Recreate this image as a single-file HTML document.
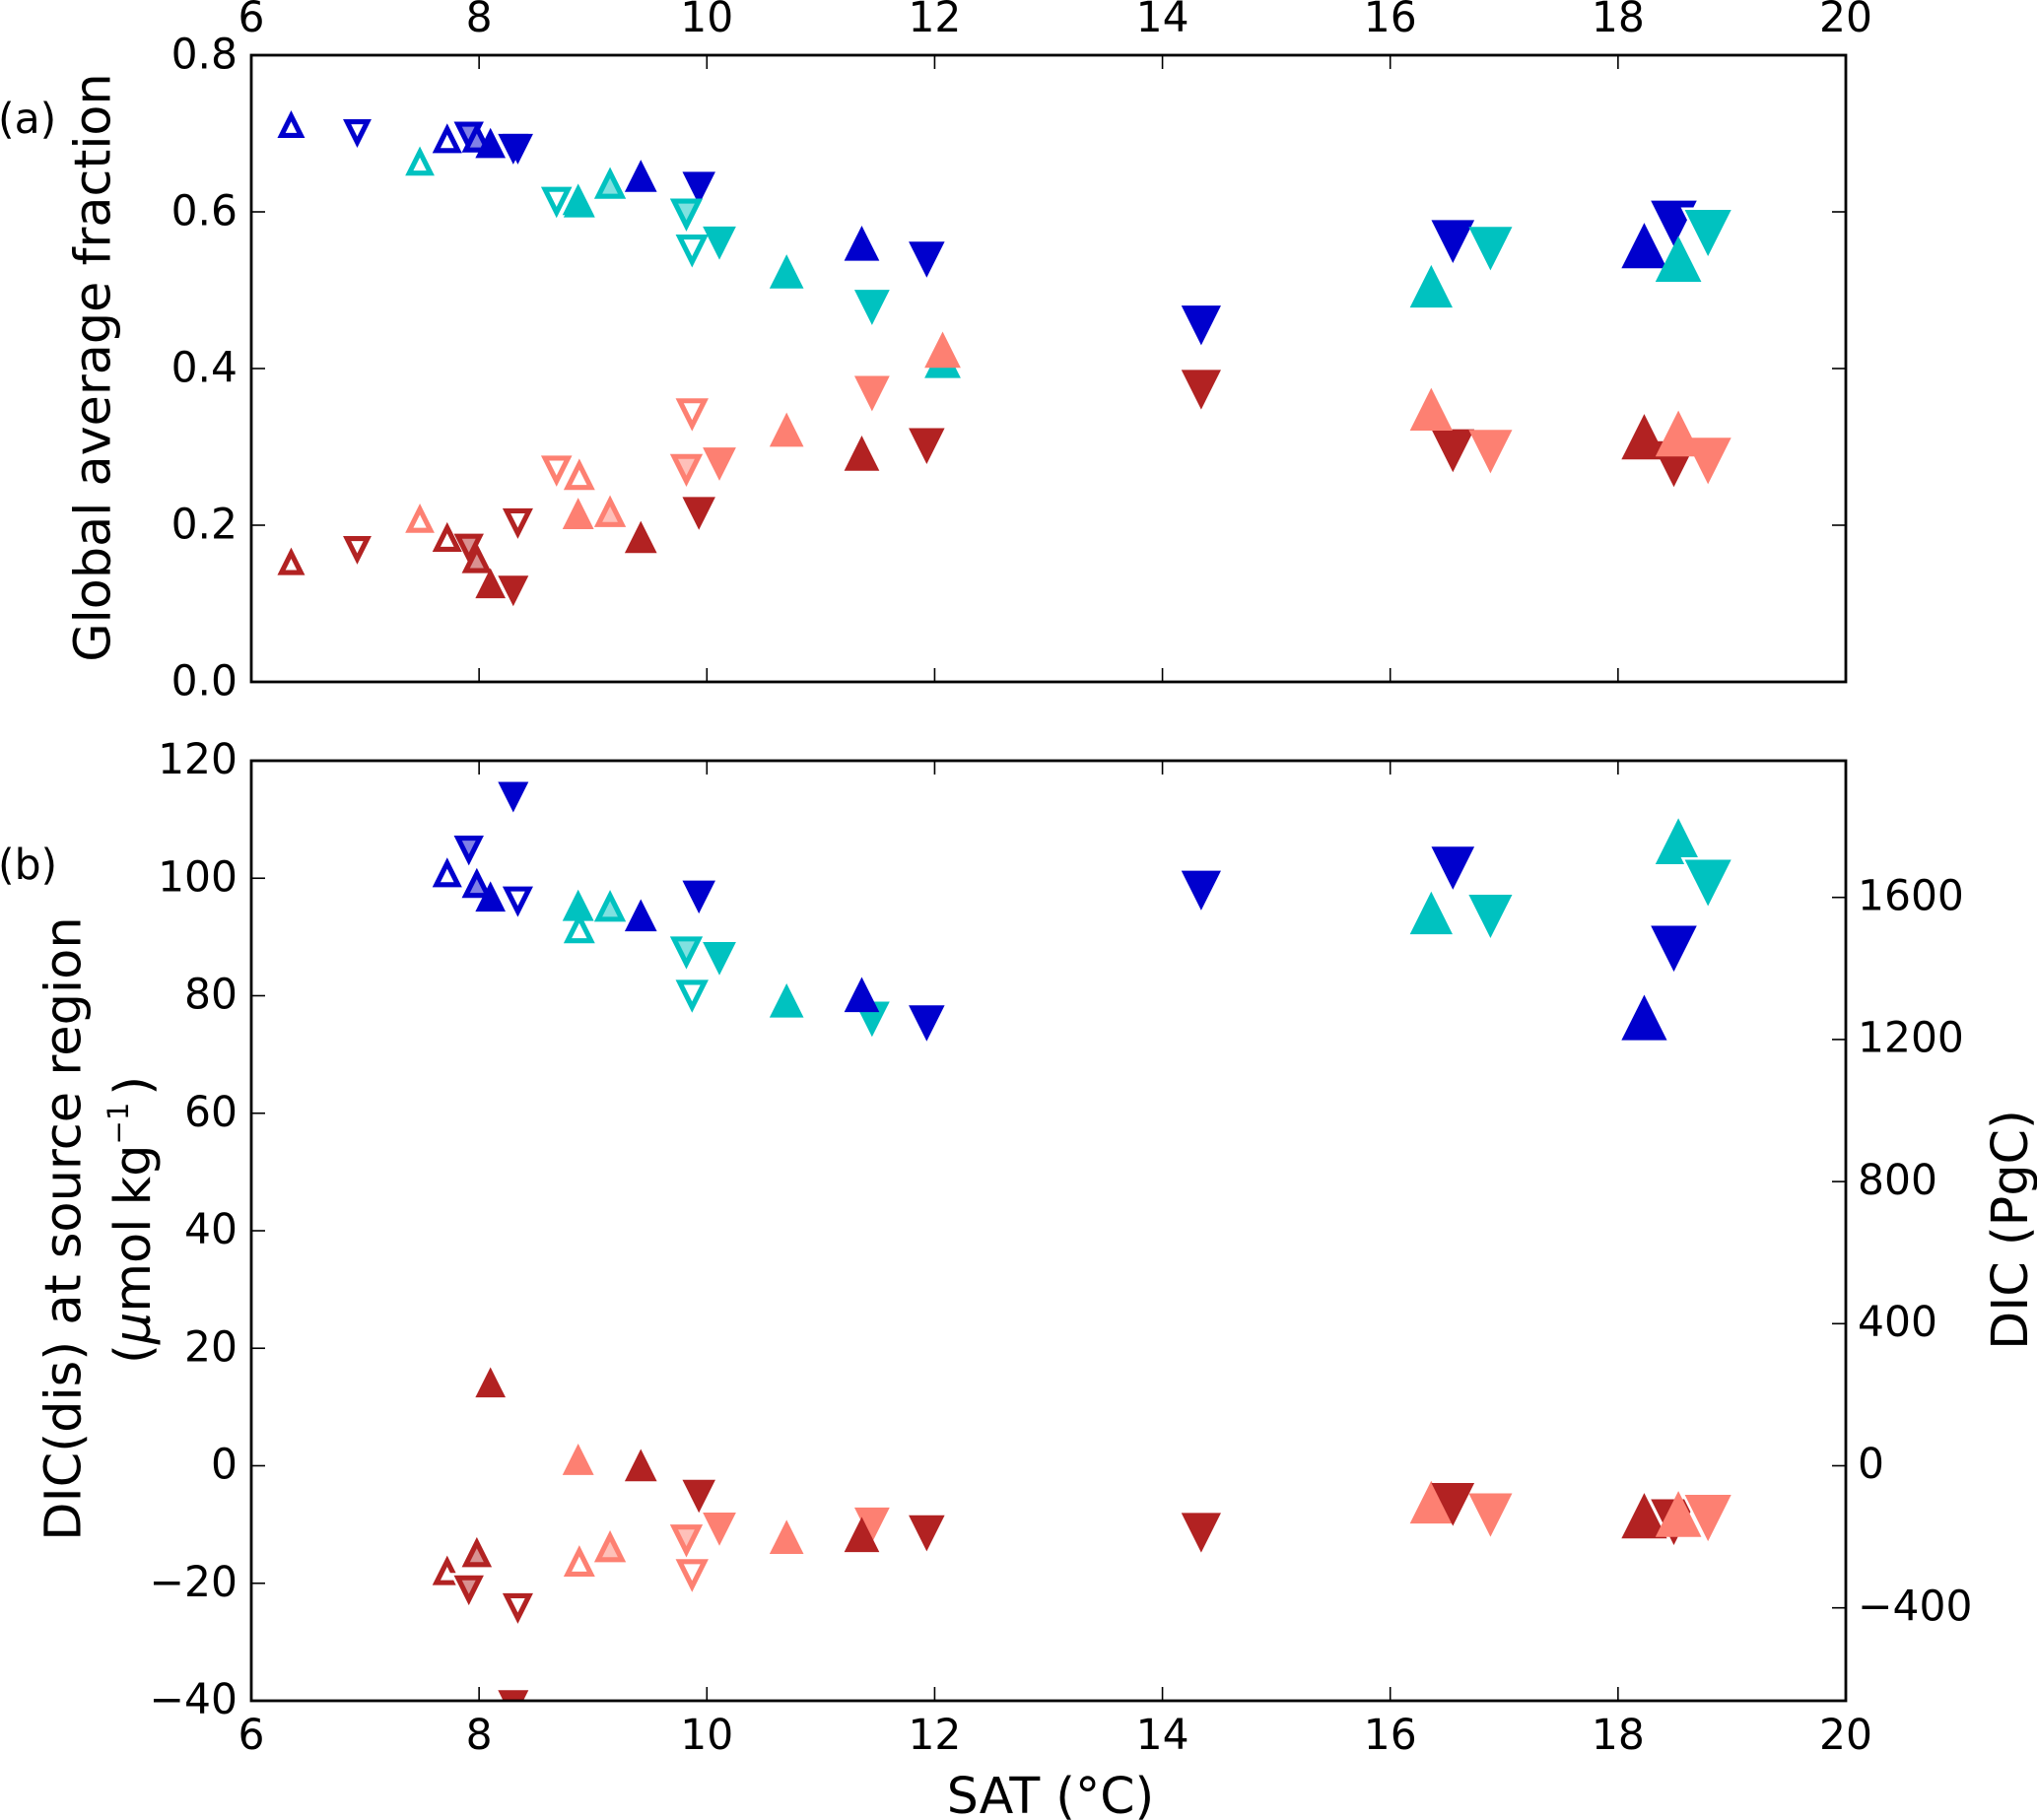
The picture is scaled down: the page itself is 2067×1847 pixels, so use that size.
<!DOCTYPE html>
<html lang="en">
<head>
<meta charset="utf-8">
<title>SAT scatter panels</title>
<style>
html,body{margin:0;padding:0;background:#fff;}
svg{display:block;}
text{font-family:"DejaVu Sans","Liberation Sans",sans-serif;fill:#000;}
</style>
</head>
<body>
<svg id="chart" xmlns="http://www.w3.org/2000/svg" width="2067" height="1847" viewBox="0 0 2067 1847">
  <rect width="2067" height="1847" fill="#fff"/>
  <defs>
    <clipPath id="clip-a"><rect x="255" y="56" width="1618" height="636"/></clipPath>
    <clipPath id="clip-b"><rect x="255" y="772" width="1618" height="954"/></clipPath>
  </defs>
  <g id="marks-a" clip-path="url(#clip-a)"></g>
  <g id="marks-b" clip-path="url(#clip-b)"></g>
  <g id="axes"></g>
  <text x="-2" y="135" font-size="42.5">(a)</text>
  <text x="-2" y="892" font-size="42.5">(b)</text>
  <text transform="translate(111.5,373) rotate(-90)" text-anchor="middle" font-size="50.8">Global average fraction</text>
  <text transform="translate(81.5,1247) rotate(-90)" text-anchor="middle" font-size="51">DIC(dis) at source region</text>
  <text transform="translate(152,1384) rotate(-90)" text-anchor="start" font-size="51">(<tspan font-style="italic">μ</tspan>mol<tspan dx="-3"> kg</tspan><tspan dy="-22" font-size="29">−1</tspan><tspan dy="22" dx="7">)</tspan></text>
  <text transform="translate(2057,1248) rotate(-90)" text-anchor="middle" font-size="50.8">DIC (PgC)</text>
  <text x="1066" y="1840" text-anchor="middle" font-size="50.5">SAT (°C)</text>
</svg>
<script>
// Shared x values (SAT, °C), in draw order
const sat = [6.35,6.93,7.48,7.72,8.68,9.87,7.91,7.98,8.10,8.30,8.34,8.87,8.88,9.15,9.42,9.93,9.82,10.11,10.70,11.45,11.36,11.93,12.07,14.34,16.36,16.55,16.88,18.23,18.49,18.53,18.79];
// Marker direction per point
const direction = ['up','down','up','up','down','down','down','up','up','down','down','up','up','up','up','down','down','down','up','down','up','down','up','down','up','down','down','up','down','up','down'];
// Marker fill category per point
const fillKind = ['open','open','open','open','open','open','half','half','filled','filled','open','filled','open','half','filled','filled','half','filled','filled','filled','filled','filled','filled','filled','filled','filled','filled','filled','filled','filled','filled'];
// Colour family per point
const family = ['dark','dark','light','dark','light','light','dark','dark','dark','dark','dark','light','light','light','dark','dark','light','light','light','light','dark','dark','light','dark','light','dark','light','dark','dark','light','light'];
// Whether a point's marker carries a white outline
const outlined = [0,0,0,0,0,0,1,0,0,1,0,0,0,0,0,0,0,0,0,0,0,0,0,0,0,0,0,0,1,0,1];
// Panel (a) lower series outlines
const outlinedLowerA = [0,0,0,0,0,0,0,0,0,1,0,0,0,0,0,0,0,0,0,0,0,0,0,0,0,0,0,0,0,0,0];
// Panel (a): global average fraction, upper and lower series
const fractionUpper = [0.712,0.700,0.665,0.694,0.612,0.550,0.696,0.695,0.688,0.680,0.680,0.616,0.613,0.637,0.646,0.630,0.596,0.560,0.524,0.478,0.560,0.539,0.411,0.455,0.505,0.562,0.553,0.557,0.585,0.540,0.573];
const fractionLower = [0.154,0.168,0.209,0.185,0.269,0.341,0.170,0.158,0.126,0.116,0.202,0.215,0.265,0.218,0.185,0.215,0.270,0.278,0.322,0.368,0.292,0.301,0.424,0.373,0.348,0.295,0.294,0.313,0.278,0.317,0.282];
// Panel (b): DIC(dis) at source region, upper and lower series (null = not plotted)
const dicUpper = [null,null,null,101,null,79.9,104.7,99.2,96.9,113.8,96,95.4,91.6,95.3,93.7,96.8,87.3,86.3,79.2,76,80.2,75.3,null,97.9,94.1,101.7,93.5,76.3,88,106.3,99.2];
const dicLower = [null,null,null,-17.8,null,-18.7,-21.2,-14.7,14.2,-40.8,-24.3,1.1,-16.2,-13.7,0.1,-5.2,-12.8,-10.8,-12.1,-10.1,-11.7,-11.5,null,-11.4,-6.2,-6.6,-8.4,-8.5,-9.6,-8.2,-8.9];
// Tick values and labels
const xTicks = [6,8,10,12,14,16,18,20];
const xTickLabels = ['6','8','10','12','14','16','18','20'];
const yTicksA = [0,0.2,0.4,0.6,0.8];
const yTickLabelsA = ['0.0','0.2','0.4','0.6','0.8'];
const yTicksB = [-40,-20,0,20,40,60,80,100,120];
const yTickLabelsB = ['−40','−20','0','20','40','60','80','100','120'];
const yTicksRight = [-400,0,400,800,1200,1600];
const yTickLabelsRight = ['−400','0','400','800','1200','1600'];

const NS = 'http://www.w3.org/2000/svg';
const L = 255, R = 1873;
const A_TOP = 56, A_BOT = 692, B_TOP = 772, B_BOT = 1726;
function xPos(v){ return L + (v - 6) / 14 * (R - L); }
function yA(v){ return A_BOT - v / 0.8 * (A_BOT - A_TOP); }
function yB(v){ return B_BOT - (v + 40) / 160 * (B_BOT - B_TOP); }
function yRight(v){ return B_BOT - (v + 661.6) / 2646.4 * (B_BOT - B_TOP); }
function markerSize(x){ return 28 + (x - 6.35) * 1.53; }

const colors = {
  dark: ['#0000cd', '#b22222'],
  light: ['#00c2c0', '#fd8072']
};

function triPoints(cx, cy, s, dir, k){
  const sign = dir === 'up' ? 1 : -1;
  const r = 0.309 * s;
  const ix = cx, iy = cy + sign * (s / 2 - r);
  const raw = [[cx, cy - sign * s / 2], [cx - s / 2, cy + sign * s / 2], [cx + s / 2, cy + sign * s / 2]];
  return raw.map(function(p){
    return (ix + k * (p[0] - ix)).toFixed(2) + ',' + (iy + k * (p[1] - iy)).toFixed(2);
  }).join(' ');
}

function drawMarker(parent, i, value, yFn, color, label, hasOutline){
  if (value === null) return;
  const cx = xPos(sat[i]), cy = yFn(value), s = markerSize(sat[i]);
  const hole = (s - 16.5) / s;
  if (fillKind[i] === 'open') {
    const ring = document.createElementNS(NS, 'path');
    
    
    ring.setAttribute('d', 'M' + triPoints(cx, cy, s, direction[i], 1) + 'Z M' + triPoints(cx, cy, s, direction[i], hole) + 'Z');
    ring.setAttribute('fill', color);
    ring.setAttribute('fill-rule', 'evenodd');
    parent.appendChild(ring);
    return;
  }
  const outer = document.createElementNS(NS, 'polygon');
  
  
  outer.setAttribute('points', triPoints(cx, cy, s, direction[i], 1));
  outer.setAttribute('fill', color);
  if (hasOutline) {
    outer.setAttribute('stroke', '#fff');
    outer.setAttribute('stroke-width', '5');
    outer.setAttribute('paint-order', 'stroke');
  }
  parent.appendChild(outer);
  if (fillKind[i] === 'half') {
    const inner = document.createElementNS(NS, 'polygon');
    
    
    inner.setAttribute('points', triPoints(cx, cy, s, direction[i], hole));
    inner.setAttribute('fill', '#fff');
    inner.setAttribute('fill-opacity', '0.5');
    parent.appendChild(inner);
  }
}

const marksA = document.getElementById('marks-a');
const marksB = document.getElementById('marks-b');
// Panel (a) stacks two neighbouring pairs the other way round
const panelAOrder = sat.map(function(x, i){ return i; });
[[24, 25], [29, 30]].forEach(function(pair){
  panelAOrder[pair[0]] = pair[1];
  panelAOrder[pair[1]] = pair[0];
});
panelAOrder.forEach(function(i){
  const c = colors[family[i]];
  drawMarker(marksA, i, fractionUpper[i], yA, c[0], 'fraction-upper-point', outlined[i]);
  drawMarker(marksA, i, fractionLower[i], yA, c[1], 'fraction-lower-point', outlinedLowerA[i]);
});
sat.forEach(function(x, i){
  const c = colors[family[i]];
  drawMarker(marksB, i, dicUpper[i], yB, c[0], 'dic-upper-point', outlined[i]);
  drawMarker(marksB, i, dicLower[i], yB, c[1], 'dic-lower-point', outlined[i]);
});

const axes = document.getElementById('axes');
function line(x1, y1, x2, y2, w, name){
  const el = document.createElementNS(NS, 'line');
  
  
  el.setAttribute('x1', x1);
  el.setAttribute('y1', y1);
  el.setAttribute('x2', x2);
  el.setAttribute('y2', y2);
  el.setAttribute('stroke', '#000');
  el.setAttribute('stroke-width', w);
  axes.appendChild(el);
}
function label(x, y, str, anchor, name){
  const el = document.createElementNS(NS, 'text');
  
  
  el.setAttribute('x', x);
  el.setAttribute('y', y);
  el.setAttribute('text-anchor', anchor);
  el.setAttribute('font-size', '42.4');
  el.textContent = str;
  axes.appendChild(el);
}
function frame(top, bot, name){
  const el = document.createElementNS(NS, 'rect');
  
  
  el.setAttribute('x', L);
  el.setAttribute('y', top);
  el.setAttribute('width', R - L);
  el.setAttribute('height', bot - top);
  el.setAttribute('fill', 'none');
  el.setAttribute('stroke', '#000');
  el.setAttribute('stroke-width', '2.8');
  axes.appendChild(el);
}

const TICK = 14, TW = 1.6;
xTicks.forEach(function(v, i){
  const x = xPos(v);
  line(x, A_TOP, x, A_TOP + TICK, TW, 'panel-a-top-tick');
  line(x, A_BOT, x, A_BOT - TICK, TW, 'panel-a-bottom-tick');
  line(x, B_TOP, x, B_TOP + TICK, TW, 'panel-b-top-tick');
  line(x, B_BOT, x, B_BOT - TICK, TW, 'panel-b-bottom-tick');
  label(x, 32, xTickLabels[i], 'middle', 'panel-a-x-tick-label');
  label(x, 1775, xTickLabels[i], 'middle', 'panel-b-x-tick-label');
});
yTicksA.forEach(function(v, i){
  const y = yA(v);
  line(L, y, L + TICK, y, TW, 'panel-a-left-tick');
  line(R, y, R - TICK, y, TW, 'panel-a-right-tick');
  label(241, y + 13.5, yTickLabelsA[i], 'end', 'panel-a-y-tick-label');
});
yTicksB.forEach(function(v, i){
  const y = yB(v);
  line(L, y, L + TICK, y, TW, 'panel-b-left-tick');
  label(241, y + 13, yTickLabelsB[i], 'end', 'panel-b-y-tick-label');
});
yTicksRight.forEach(function(v, i){
  const y = yRight(v);
  line(R, y, R - TICK, y, TW, 'panel-b-right-tick');
  label(1885, y + 12.7, yTickLabelsRight[i], 'start', 'panel-b-right-tick-label');
});
frame(A_TOP, A_BOT, 'panel-a-frame');
frame(B_TOP, B_BOT, 'panel-b-frame');
</script>
</body>
</html>
